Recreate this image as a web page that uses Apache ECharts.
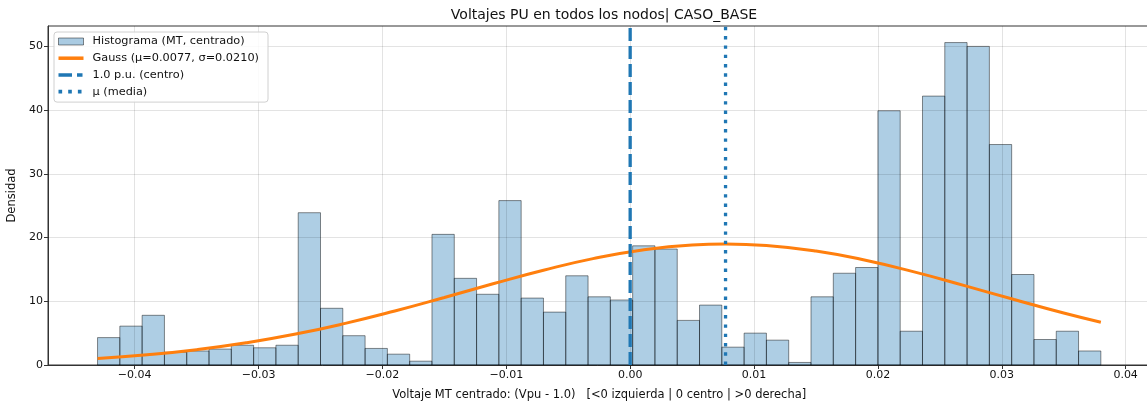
<!DOCTYPE html>
<html>
<head>
<meta charset="utf-8">
<script src="https://cdn.jsdelivr.net/npm/echarts@6/dist/echarts.min.js"></script>
<style>
  html, body { margin: 0; padding: 0; background: #fff; }
  #chart { width: 1147px; height: 403px; }
</style>
</head>
<body>
<div id="chart"></div>
<script>
// ---- Data ----
const binStart = -0.0430;
const binWidth = 0.0018;
const binHeights = [
  4.3, 6.1, 7.8, 2.0, 2.2, 2.5, 3.1, 2.7, 3.1, 23.9,
  8.9, 4.6, 2.6, 1.7, 0.6, 20.5, 13.6, 11.1, 25.8, 10.5,
  8.3, 14.0, 10.7, 10.2, 18.7, 18.2, 7.0, 9.4, 2.8, 5.0,
  3.9, 0.4, 10.7, 14.4, 15.3, 39.9, 5.3, 42.2, 50.6, 50.0,
  34.6, 14.2, 4.0, 5.3, 2.2
];
const gaussX = [-0.043, -0.039, -0.035, -0.031, -0.027, -0.023, -0.019, -0.015, -0.011, -0.007,
  -0.003, 0.001, 0.005, 0.0077, 0.011, 0.015, 0.019, 0.023, 0.027, 0.031, 0.035, 0.038];
const gaussY = [1.03, 1.60, 2.40, 3.48, 4.85, 6.53, 8.47, 10.59, 12.78, 14.87,
  16.69, 18.05, 18.84, 19.00, 18.76, 17.88, 16.44, 14.57, 12.46, 10.27, 8.16, 6.71];
const centerX = 0.0;
const meanX = 0.0077;
const xTickValues = [-0.04, -0.03, -0.02, -0.01, 0.00, 0.01, 0.02, 0.03, 0.04];
const yTickValues = [0, 10, 20, 30, 40, 50];
const xMin = -0.047, xMax = 0.042;
const yMin = 0, yMax = 53.2;

const titleText = 'Voltajes PU en todos los nodos| CASO_BASE';
const xLabel = 'Voltaje MT centrado: (Vpu - 1.0)   [<0 izquierda | 0 centro | >0 derecha]';
const yLabel = 'Densidad';
const names = ['Histograma (MT, centrado)', 'Gauss (μ=0.0077, σ=0.0210)', '1.0 p.u. (centro)', 'μ (media)'];

// ---- Build ----
const histData = binHeights.map((h, i) => [binStart + i * binWidth, binStart + (i + 1) * binWidth, h]);
const gaussData = gaussX.map((x, i) => [x, gaussY[i]]);
const fmtX = v => (v < 0 ? '\u2212' : '') + Math.abs(v).toFixed(2);

const FONT = 'DejaVu Sans';
const FS = 11.5;
const BLUE = '#1f77b4';
const chart = echarts.init(document.getElementById('chart'), null, { renderer: 'canvas' });

const gridLineStyle = { color: 'rgba(0,0,0,0.11)', width: 1, type: 'solid' };

// legend icon shapes (25 x 3.5 box)
const sliver = 'M24.98,1.7H25V1.8H24.98Z';
const iconSolid = 'path://M0,0H25V3.5H0Z';
const iconDashed = 'path://M0,0H13.5V3.5H0Z M18.5,0H24V3.5H18.5Z ' + sliver;
const iconDotted = 'path://M1,0H4.5V3.5H1Z M10.3,0H13.8V3.5H10.3Z M19.6,0H23.1V3.5H19.6Z ' + sliver;

function vlineRender(dash) {
  return function (params, api) {
    const p0 = api.coord([api.value(0), yMin]);
    const p1 = api.coord([api.value(0), yMax]);
    return {
      type: 'line',
      shape: { x1: p0[0], y1: p0[1], x2: p1[0], y2: p1[1] },
      style: { stroke: BLUE, lineWidth: 3.3, lineDash: dash, lineCap: 'butt' }
    };
  };
}

chart.setOption({
  animation: false,
  backgroundColor: '#fff',
  textStyle: { fontFamily: FONT },
  title: {
    text: titleText,
    left: 599, top: 3, textAlign: 'center',
    textStyle: { fontFamily: FONT, fontSize: 14, fontWeight: 'normal', color: '#111' }
  },
  grid: {
    left: 48, width: 1102.4, top: 26, bottom: 38,
    outerBoundsMode: 'none', containLabel: false,
    show: true, borderColor: '#333', borderWidth: 1, backgroundColor: 'transparent'
  },
  legend: {
    orient: 'vertical', left: 54, top: 32,
    padding: [3, 9, 4, 4],
    itemWidth: 25, itemHeight: 7, itemGap: 3.7,
    symbolKeepAspect: true,
    backgroundColor: 'rgba(255,255,255,0.85)',
    borderColor: '#d0d0d0', borderWidth: 1, borderRadius: 3,
    textStyle: { fontFamily: FONT, fontSize: 11.3, color: '#111', lineHeight: 13, padding: [0, 0, 0, 4] },
    data: [
      { name: names[0], icon: 'rect', itemStyle: { color: 'rgba(31,119,180,0.38)', borderColor: 'rgba(0,0,0,0.45)', borderWidth: 1 } },
      { name: names[1], icon: iconSolid, itemStyle: { color: '#ff7f0e', borderWidth: 0 } },
      { name: names[2], icon: iconDashed, itemStyle: { color: BLUE, borderWidth: 0 } },
      { name: names[3], icon: iconDotted, itemStyle: { color: BLUE, borderWidth: 0 } }
    ]
  },
  xAxis: {
    type: 'value', min: xMin, max: xMax,
    name: xLabel, nameLocation: 'middle', nameGap: 24,
    nameTextStyle: { fontFamily: FONT, fontSize: FS, color: '#111' },
    axisLine: { show: true, onZero: false, lineStyle: { color: '#333', width: 1 } },
    axisTick: { show: true, customValues: xTickValues, length: 4, lineStyle: { color: '#333' } },
    axisLabel: { customValues: xTickValues, formatter: fmtX, fontFamily: FONT, fontSize: 11, color: '#111', margin: 5 },
    splitLine: { show: false }
  },
  yAxis: {
    type: 'value', min: yMin, max: yMax,
    name: yLabel, nameLocation: 'middle', nameGap: 21, nameRotate: 90,
    nameTextStyle: { fontFamily: FONT, fontSize: FS, color: '#111' },
    axisLine: { show: true, onZero: false, lineStyle: { color: '#333', width: 1 } },
    axisTick: { show: true, customValues: yTickValues, length: 4, lineStyle: { color: '#333' } },
    axisLabel: { customValues: yTickValues, fontFamily: FONT, fontSize: 11, color: '#111', margin: 5 },
    splitLine: { show: false }
  },
  series: [
    {
      name: names[0], type: 'custom', z: 1,
      data: histData,
      encode: { x: [0, 1], y: 2 },
      renderItem: function (params, api) {
        const p0 = api.coord([api.value(0), api.value(2)]);
        const p1 = api.coord([api.value(1), 0]);
        return {
          type: 'rect',
          shape: { x: p0[0], y: p0[1], width: p1[0] - p0[0], height: p1[1] - p0[1] },
          style: { fill: 'rgba(31,119,180,0.36)', stroke: 'rgba(0,0,0,0.45)', lineWidth: 1 }
        };
      },
      itemStyle: { color: 'rgba(31,119,180,0.38)', borderColor: 'rgba(0,0,0,0.45)', borderWidth: 1 }
    },
    {
      name: 'gridlines', type: 'line', data: [], silent: true, z: 2,
      markLine: {
        silent: true, symbol: 'none', label: { show: false }, z: 2,
        lineStyle: gridLineStyle, animation: false,
        data: xTickValues.map(v => ({ xAxis: v })).concat(yTickValues.filter(v => v > 0).map(v => ({ yAxis: v })))
      }
    },
    {
      name: names[1], type: 'line', data: gaussData, smooth: true, showSymbol: false, symbol: 'none', z: 3,
      lineStyle: { color: '#ff7f0e', width: 3 }, itemStyle: { color: '#ff7f0e' }
    },
    {
      name: names[2], type: 'custom', z: 4, silent: true,
      data: [[centerX]], encode: { x: 0 },
      itemStyle: { color: BLUE },
      renderItem: vlineRender([13, 5])
    },
    {
      name: names[3], type: 'custom', z: 5, silent: true,
      data: [[meanX]], encode: { x: 0 },
      itemStyle: { color: BLUE },
      renderItem: vlineRender([3.4, 5.9])
    }
  ]
});
</script>
</body>
</html>
